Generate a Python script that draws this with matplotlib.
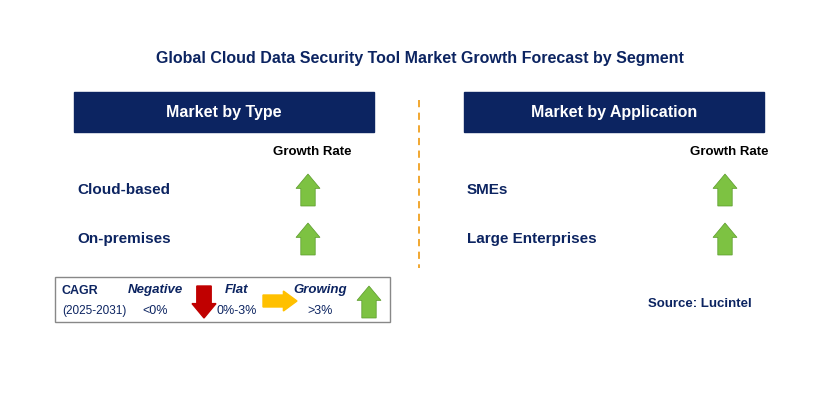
import matplotlib
matplotlib.use("Agg")
import matplotlib.pyplot as plt
from matplotlib.patches import Rectangle, Polygon
plt.rcParams["font.family"] = "Liberation Sans"

title = "Global Cloud Data Security Tool Market Growth Forecast by Segment"
panel_titles = ["Market by Type", "Market by Application"]
type_categories = ["Cloud-based", "On-premises"]
type_growth = ["Growing", "Growing"]
app_categories = ["SMEs", "Large Enterprises"]
app_growth = ["Growing", "Growing"]
legend_labels = ["Negative", "Flat", "Growing"]
legend_ranges = ["<0%", "0%-3%", ">3%"]
source = "Source: Lucintel"

NAVY = "#0c2461"
GREEN = "#7dc242"
RED = "#c00000"
ORANGE = "#ffc000"

fig = plt.figure(figsize=(8.29, 4.09), dpi=100)
ax = fig.add_axes([0, 0, 1, 1])
ax.set_xlim(0, 829); ax.set_ylim(409, 0); ax.axis("off")

def up(cx, cy, w=24, h=32, c=GREEN):
    hw = w/2; sw = w*0.3; hh = h*0.45
    pts = [(cx, cy-h/2), (cx+hw, cy-h/2+hh), (cx+sw, cy-h/2+hh), (cx+sw, cy+h/2),
           (cx-sw, cy+h/2), (cx-sw, cy-h/2+hh), (cx-hw, cy-h/2+hh)]
    ax.add_patch(Polygon(pts, closed=True, color=c, ec="#5a9a2a", lw=0.5))

def down(cx, cy, w=24, h=32, c=RED):
    hw = w/2; sw = w*0.3; hh = h*0.45
    pts = [(cx, cy+h/2), (cx+hw, cy+h/2-hh), (cx+sw, cy+h/2-hh), (cx+sw, cy-h/2),
           (cx-sw, cy-h/2), (cx-sw, cy+h/2-hh), (cx-hw, cy+h/2-hh)]
    ax.add_patch(Polygon(pts, closed=True, color=c))

def right(cx, cy, w=34, h=20, c=ORANGE):
    hw = h/2; sh = h*0.3; hl = w*0.4
    pts = [(cx+w/2, cy), (cx+w/2-hl, cy-hw), (cx+w/2-hl, cy-sh), (cx-w/2, cy-sh),
           (cx-w/2, cy+sh), (cx+w/2-hl, cy+sh), (cx+w/2-hl, cy+hw)]
    ax.add_patch(Polygon(pts, closed=True, color=c))

ax.text(420, 58, title, ha="center", va="center", fontsize=11.5, fontweight="bold", color=NAVY)
ax.plot([419, 419], [100, 268], ls=(0, (4, 3)), color="#f0a020", lw=1.3)

panels = [(74, type_categories, type_growth, 308), (464, app_categories, app_growth, 725)]
for (x0, cats, growth, ax_x), pt in zip(panels, panel_titles):
    ax.add_patch(Rectangle((x0, 92), 300, 40, color=NAVY))
    ax.text(x0+150, 112, pt, ha="center", va="center", fontsize=11.5, fontweight="bold", color="white")
    ax.text(ax_x+4, 152, "Growth Rate", ha="center", va="center", fontsize=9.5, fontweight="bold", color="black")
    for i, (c, g) in enumerate(zip(cats, growth)):
        y = 190 + 49*i
        ax.text(x0+3, y, c, ha="left", va="center", fontsize=11, fontweight="bold", color=NAVY)
        if g == "Growing":
            up(ax_x, y)

ax.add_patch(Rectangle((55, 277), 335, 45, fill=False, ec="#888888", lw=1))
ax.text(62, 291, "CAGR", fontsize=9, fontweight="bold", color=NAVY, va="center")
ax.text(62, 311, "(2025-2031)", fontsize=8.5, color=NAVY, va="center")
lx = [155, 237, 320]
for x, l, r in zip(lx, legend_labels, legend_ranges):
    ax.text(x, 290, l, fontsize=9.5, fontweight="bold", style="italic", color=NAVY, ha="center", va="center")
    ax.text(x, 311, r, fontsize=9, color=NAVY, ha="center", va="center")
down(204, 302, w=24, h=32)
right(280, 301, w=34, h=20)
up(369, 302, w=24, h=32)
ax.text(700, 304, source, ha="center", va="center", fontsize=9.5, fontweight="bold", color=NAVY)

fig.savefig("out.png", dpi=100)
